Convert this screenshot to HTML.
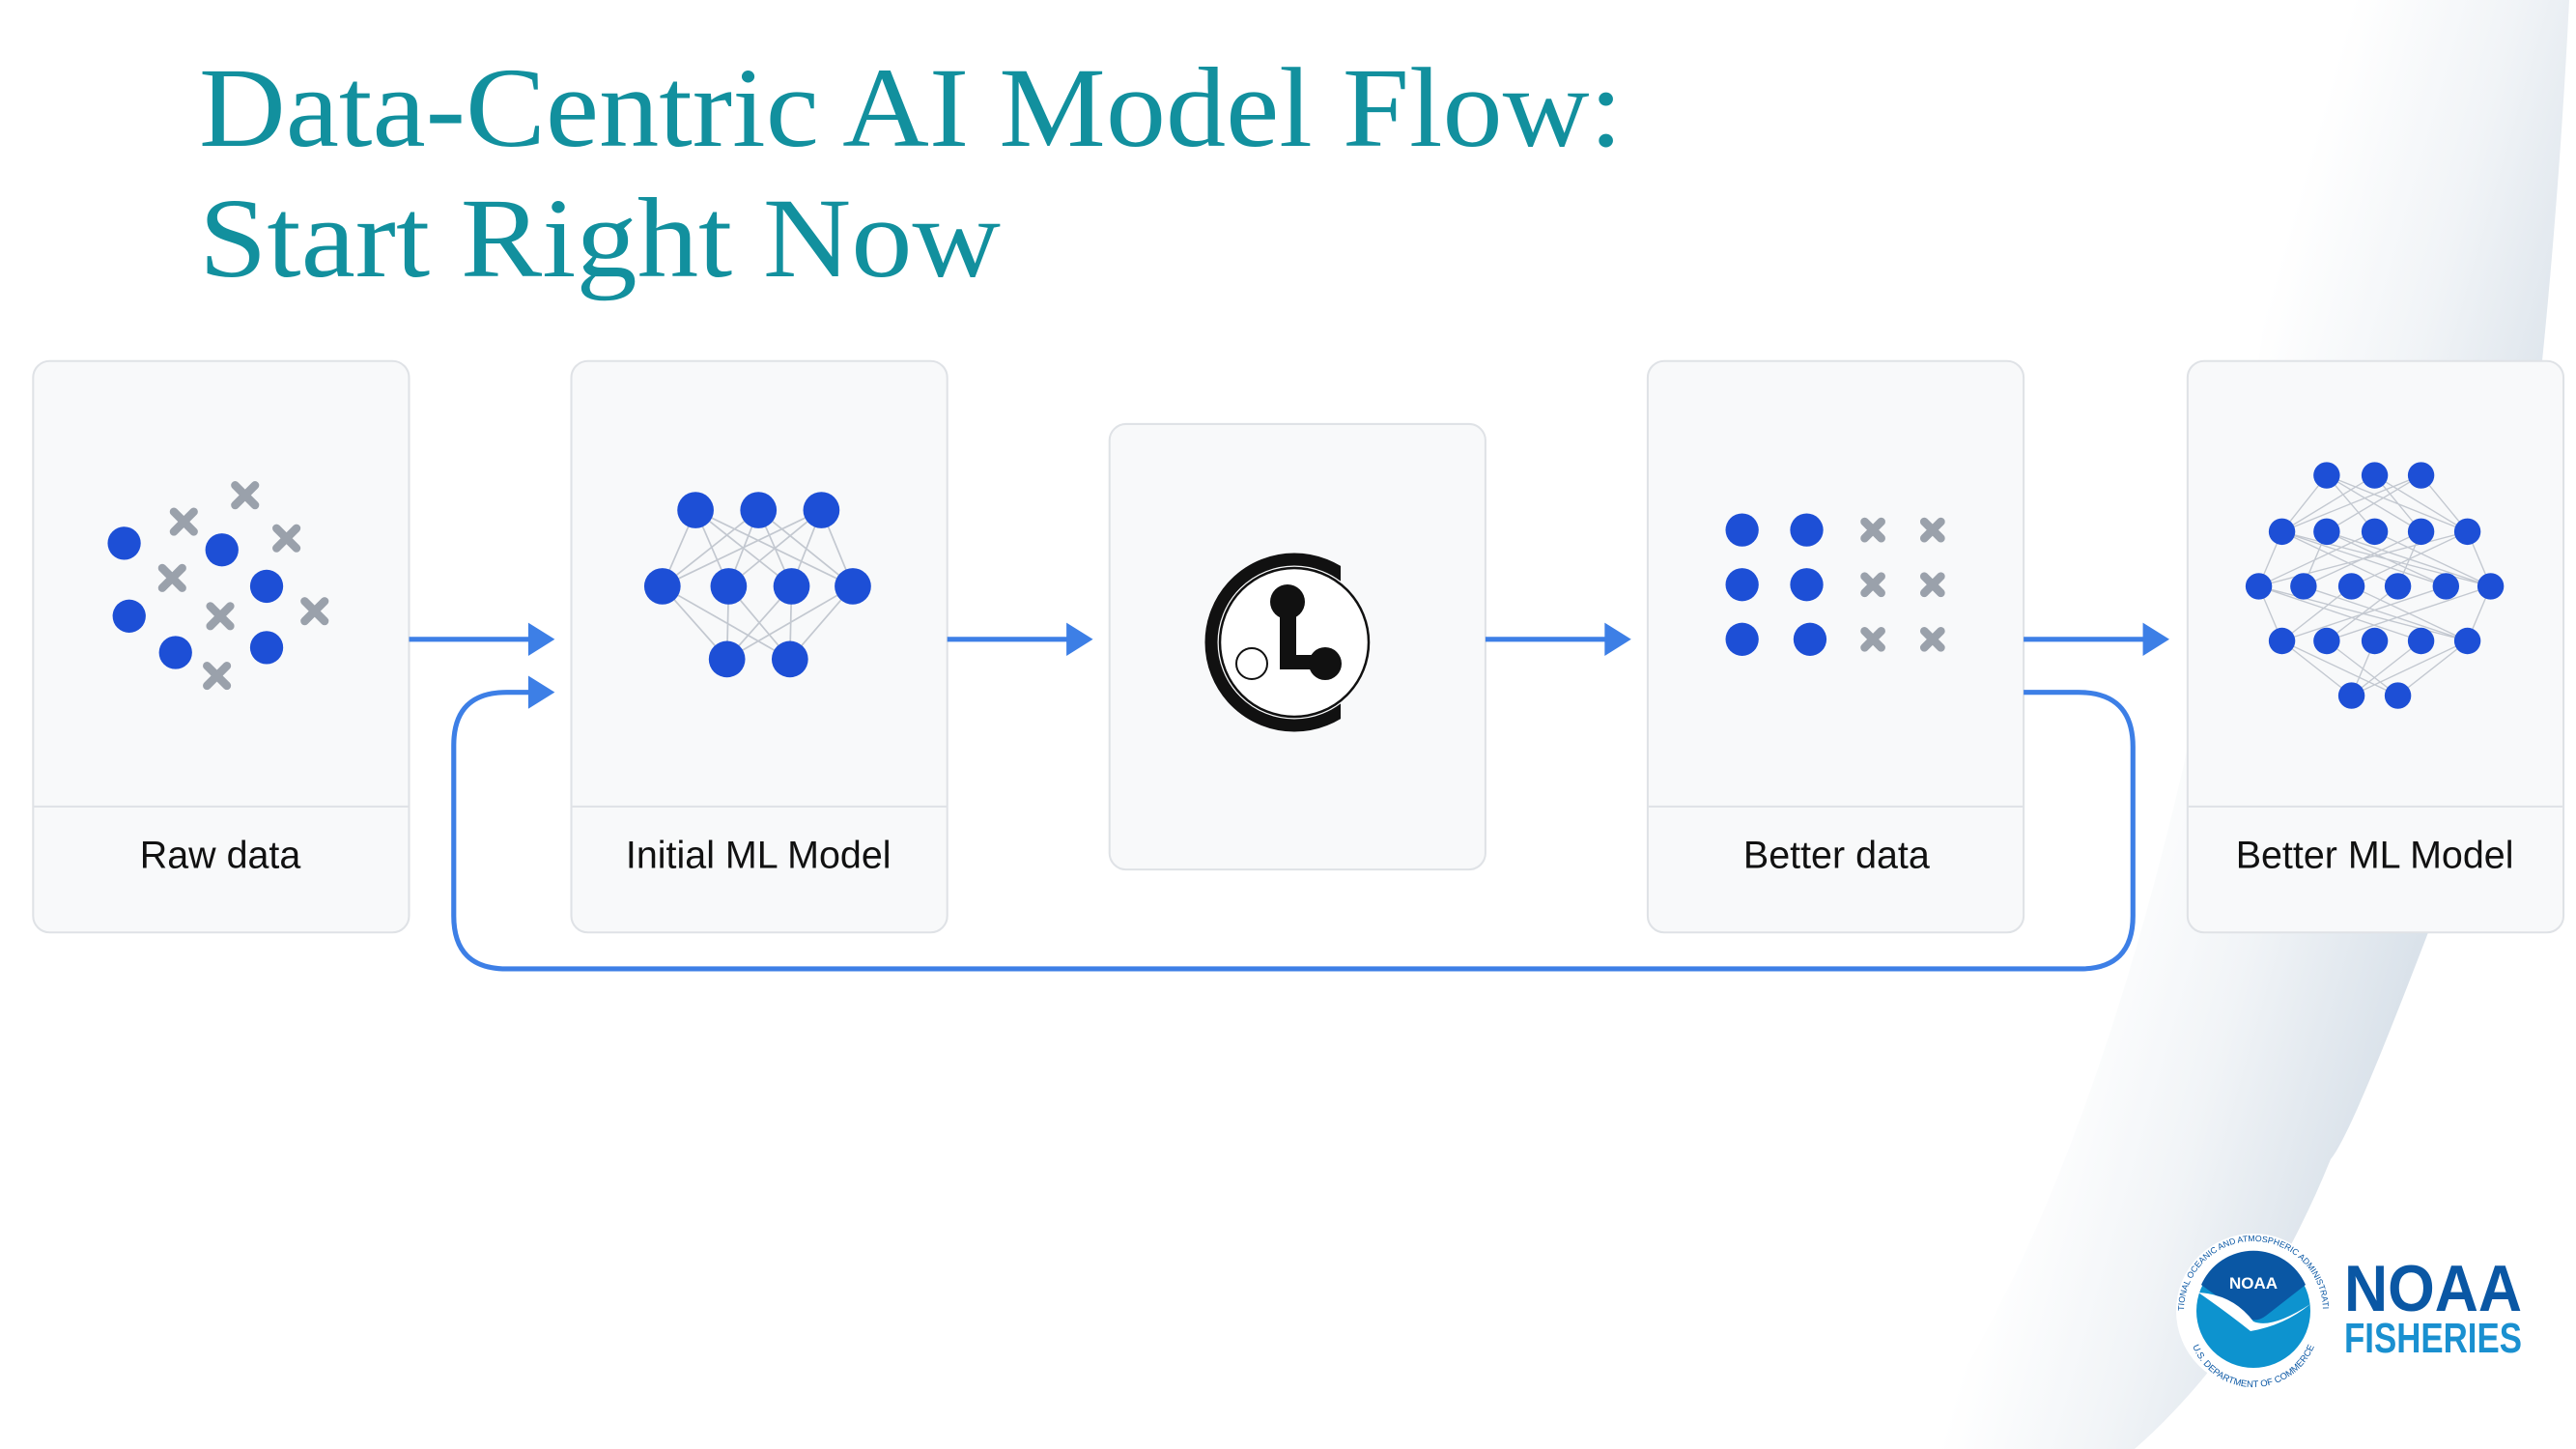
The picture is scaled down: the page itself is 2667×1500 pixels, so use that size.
<!DOCTYPE html>
<html><head><meta charset="utf-8"><style>
html,body{margin:0;padding:0;background:#fff;width:2667px;height:1500px;overflow:hidden;}
svg{display:block;overflow:hidden;position:absolute;left:0;top:0;}
</style></head><body>
<svg width="2667" height="1500" viewBox="0 0 2667 1500" xmlns="http://www.w3.org/2000/svg">
<defs>
<linearGradient id="sw" gradientUnits="userSpaceOnUse" x1="2250" y1="650" x2="2600" y2="750">
<stop offset="0" stop-color="#ffffff"/>
<stop offset="0.45" stop-color="#f1f4f7"/>
<stop offset="1" stop-color="#d6dfe8"/>
</linearGradient>
<clipPath id="cc"><rect x="1200" y="500" width="188" height="330"/></clipPath>
<path id="ringTop" d="M2261,1357 A72,72 0 0 1 2405,1357"/>
<path id="ringBot" d="M2265,1368 A68,68 0 0 0 2401,1368"/>
</defs>
<rect width="2667" height="1500" fill="#fff"/>
<path d="M2380,0 L2667,0 L2667,1500 L1980,1500 C2200,1200 2330,600 2380,0 Z" fill="url(#sw)"/>
<path d="M2667,0 L2660,0 C2645,300 2600,800 2516,960 C2470,1080 2430,1180 2413,1200 C2360,1330 2290,1430 2210,1500 L2667,1500 Z" fill="#fff"/>

<text x="206" y="151" font-family="Liberation Serif, serif" font-size="118" fill="#12909e" textLength="1474" lengthAdjust="spacingAndGlyphs">Data-Centric AI Model Flow:</text>
<text x="206" y="286" font-family="Liberation Serif, serif" font-size="118" fill="#12909e" textLength="830" lengthAdjust="spacingAndGlyphs">Start Right Now</text>

<g transform="scale(1.7145)">
<g fill="#f8f9fa" stroke="#dfe2e6" stroke-width="1.2">
<rect x="20" y="218" width="227" height="345" rx="10"/>
<rect x="345" y="218" width="227" height="345" rx="10"/>
<rect x="670" y="256" width="227" height="269" rx="10"/>
<rect x="995" y="218" width="227" height="345" rx="10"/>
<rect x="1321" y="218" width="227" height="345" rx="10"/>
</g>
<g stroke="#e0e3e7" stroke-width="1.2">
<line x1="20" y1="487" x2="247" y2="487"/><line x1="345" y1="487" x2="572" y2="487"/>
<line x1="995" y1="487" x2="1222" y2="487"/><line x1="1321" y1="487" x2="1548" y2="487"/>
</g>
<g font-family="Liberation Sans, sans-serif" font-size="23" fill="#111" text-anchor="middle">
<text x="133" y="524">Raw data</text>
<text x="458" y="524">Initial ML Model</text>
<text x="1109" y="524">Better data</text>
<text x="1434" y="524">Better ML Model</text>
</g>
<g stroke="#3d7fe6" stroke-width="3" fill="none">
<line x1="247" y1="386" x2="322" y2="386"/>
<line x1="572" y1="386" x2="647" y2="386"/>
<line x1="897" y1="386" x2="972" y2="386"/>
<line x1="1222" y1="386" x2="1297" y2="386"/>
<path d="M1222,418 L1255,418 Q1288,418 1288,451 L1288,553 Q1288,585 1256,585 L306,585 Q274,585 274,553 L274,450 Q274,418 306,418 L322,418"/>
</g>
<g fill="#3d7fe6">
<path d="M319,376 L335,386 L319,396Z"/><path d="M644,376 L660,386 L644,396Z"/>
<path d="M969,376 L985,386 L969,396Z"/><path d="M1294,376 L1310,386 L1294,396Z"/>
<path d="M319,408 L335,418 L319,428Z"/>
</g>
<g fill="#1d4fd6">
<circle cx="75" cy="328" r="10"/><circle cx="134" cy="332" r="10"/><circle cx="161" cy="354" r="10"/>
<circle cx="78" cy="372" r="10"/><circle cx="106" cy="394" r="10"/><circle cx="161" cy="391" r="10"/>
</g>
<g stroke="#9aa1ab" stroke-width="5" stroke-linecap="round">
<path d="M142,293l12,12M154,293l-12,12"/><path d="M105,309l12,12M117,309l-12,12"/>
<path d="M167,319l12,12M179,319l-12,12"/><path d="M98,343l12,12M110,343l-12,12"/>
<path d="M127,366l12,12M139,366l-12,12"/><path d="M184,363l12,12M196,363l-12,12"/>
<path d="M125,402l12,12M137,402l-12,12"/>
</g>
<g stroke="#c3c8d0" stroke-width="1">
<path d="M420,308L400,354M420,308L440,354M420,308L478,354M420,308L515,354M458,308L400,354M458,308L440,354M458,308L478,354M458,308L515,354M496,308L400,354M496,308L440,354M496,308L478,354M496,308L515,354"/>
<path d="M400,354L439,398M400,354L477,398M440,354L439,398M440,354L477,398M478,354L439,398M478,354L477,398M515,354L439,398M515,354L477,398"/>
</g>
<g fill="#1d4fd6">
<circle cx="420" cy="308" r="11"/><circle cx="458" cy="308" r="11"/><circle cx="496" cy="308" r="11"/>
<circle cx="400" cy="354" r="11"/><circle cx="440" cy="354" r="11"/><circle cx="478" cy="354" r="11"/><circle cx="515" cy="354" r="11"/>
<circle cx="439" cy="398" r="11"/><circle cx="477" cy="398" r="11"/>
</g>
<g fill="#1d4fd6">
<circle cx="1052" cy="320" r="10"/><circle cx="1091" cy="320" r="10"/>
<circle cx="1052" cy="353" r="10"/><circle cx="1091" cy="353" r="10"/>
<circle cx="1052" cy="386" r="10"/><circle cx="1093" cy="386" r="10"/>
</g>
<g stroke="#9aa1ab" stroke-width="5" stroke-linecap="round">
<path d="M1126,315l10,10M1136,315l-10,10M1162,315l10,10M1172,315l-10,10"/>
<path d="M1126,348l10,10M1136,348l-10,10M1162,348l10,10M1172,348l-10,10"/>
<path d="M1126,381l10,10M1136,381l-10,10M1162,381l10,10M1172,381l-10,10"/>
</g>
<g stroke="#c3c8d0" stroke-width="0.8">
<path d="M1405,287L1378,321M1405,287L1434,321M1405,287L1490,321M1434,287L1378,321M1434,287L1462,321M1434,287L1490,321M1462,287L1405,321M1462,287L1490,321M1462,287L1378,321M1405,287L1462,321"/>
<path d="M1378,321L1364,354M1378,321L1448,354M1378,321L1504,354M1405,321L1391,354M1405,321L1477,354M1434,321L1364,354M1434,321L1504,354M1462,321L1391,354M1462,321L1448,354M1490,321L1420,354M1490,321L1364,354M1490,321L1504,354M1378,321L1477,354M1405,321L1504,354"/>
<path d="M1364,354L1378,387M1364,354L1462,387M1391,354L1490,387M1420,354L1378,387M1448,354L1405,387M1477,354L1378,387M1504,354L1490,387M1504,354L1405,387M1420,354L1490,387M1364,354L1490,387"/>
<path d="M1378,387L1420,420M1405,387L1448,420M1434,387L1420,420M1462,387L1420,420M1490,387L1448,420M1378,387L1448,420M1490,387L1420,420"/>
</g>
<g fill="#1d4fd6">
<circle cx="1405" cy="287" r="8"/><circle cx="1434" cy="287" r="8"/><circle cx="1462" cy="287" r="8"/>
<circle cx="1378" cy="321" r="8"/><circle cx="1405" cy="321" r="8"/><circle cx="1434" cy="321" r="8"/><circle cx="1462" cy="321" r="8"/><circle cx="1490" cy="321" r="8"/>
<circle cx="1364" cy="354" r="8"/><circle cx="1391" cy="354" r="8"/><circle cx="1420" cy="354" r="8"/><circle cx="1448" cy="354" r="8"/><circle cx="1477" cy="354" r="8"/><circle cx="1504" cy="354" r="8"/>
<circle cx="1378" cy="387" r="8"/><circle cx="1405" cy="387" r="8"/><circle cx="1434" cy="387" r="8"/><circle cx="1462" cy="387" r="8"/><circle cx="1490" cy="387" r="8"/>
<circle cx="1420" cy="420" r="8"/><circle cx="1448" cy="420" r="8"/>
</g>
</g>

<circle cx="1340" cy="665" r="86" fill="none" stroke="#111" stroke-width="13" clip-path="url(#cc)"/>
<circle cx="1340" cy="665" r="77" fill="#fff" stroke="#111" stroke-width="2.5"/>
<circle cx="1333" cy="623" r="18" fill="#111"/>
<rect x="1325" y="623" width="17" height="70" fill="#111"/>
<rect x="1325" y="678" width="47" height="15" fill="#111"/>
<circle cx="1372" cy="687" r="17" fill="#111"/>
<circle cx="1296" cy="687" r="16" fill="#fff" stroke="#111" stroke-width="2"/>

<circle cx="2333" cy="1357" r="80" fill="#fff"/>
<circle cx="2333" cy="1357" r="59" fill="#0d93cf"/>
<path d="M2279,1330 A59,59 0 0 1 2387,1330 L2346,1362 Q2333,1372 2320,1360 Z" fill="#0a57a4"/>
<path d="M2276,1338 Q2312,1340 2333,1368 Q2352,1376 2392,1350 Q2365,1372 2330,1378 Q2305,1358 2276,1338Z" fill="#fff"/>
<text x="2333" y="1334" font-family="Liberation Sans, sans-serif" font-weight="bold" font-size="17" fill="#fff" text-anchor="middle">NOAA</text>
<text font-family="Liberation Sans, sans-serif" font-size="8.8" fill="#0a57a4"><textPath href="#ringTop" startOffset="50%" text-anchor="middle">NATIONAL OCEANIC AND ATMOSPHERIC ADMINISTRATION</textPath></text>
<text font-family="Liberation Sans, sans-serif" font-size="9.5" fill="#0a57a4"><textPath href="#ringBot" startOffset="50%" text-anchor="middle">U.S. DEPARTMENT OF COMMERCE</textPath></text>
<text x="2427" y="1357" font-family="Liberation Sans, sans-serif" font-weight="bold" font-size="68" fill="#0a57a4" textLength="184" lengthAdjust="spacingAndGlyphs">NOAA</text>
<text x="2427" y="1400" font-family="Liberation Sans, sans-serif" font-weight="bold" font-size="44" fill="#1a90d0" textLength="184" lengthAdjust="spacingAndGlyphs">FISHERIES</text>
</svg>
</body></html>
